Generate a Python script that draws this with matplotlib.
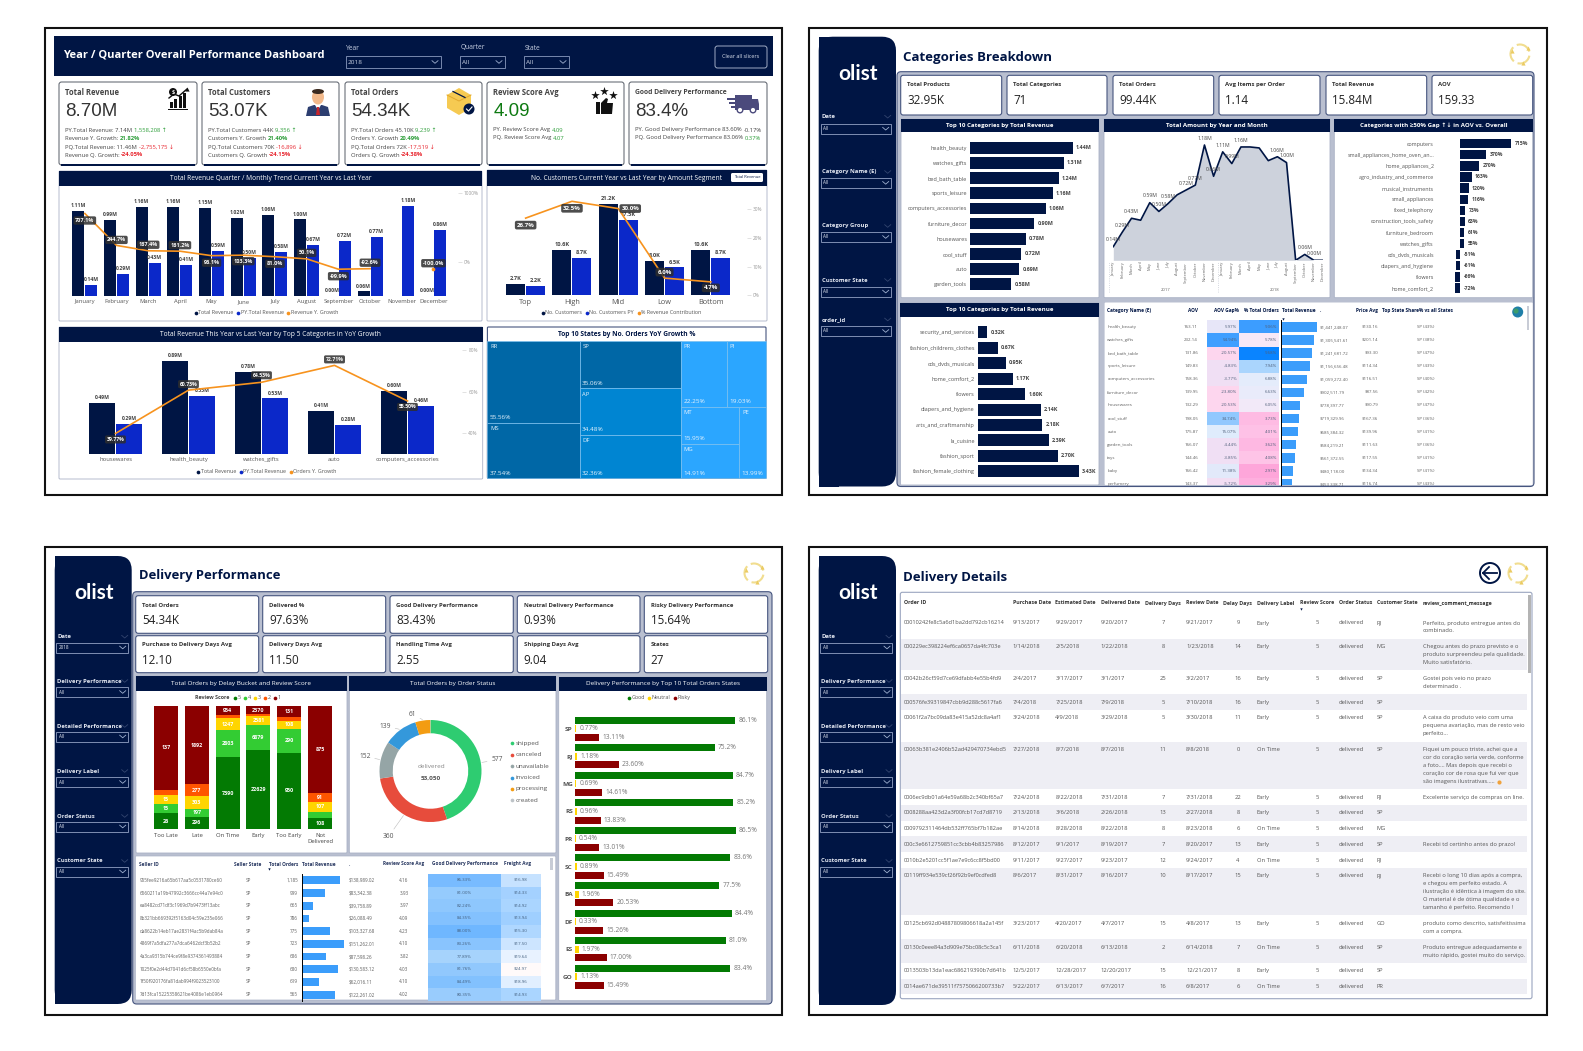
#!/usr/bin/env python3
"""
olist power bi dashboard pages redrawn with matplotlib
"""
import math

import matplotlib
matplotlib.use("Agg")
import matplotlib.pyplot as plt
from matplotlib.colors import LinearSegmentedColormap, Normalize
from matplotlib.patches import Arc, Circle, FancyBboxPatch, Polygon, Rectangle, Ellipse

W, H = 1583, 1051
NAVY = "#001544"
BLUE = "#0B28C9"
ORANGE = "#F7931E"
GREY_BG = "#B9BFD0"
EDGE = "#46557F"
TXT = "#444444"
GREEN = "#2E9E3A"
RED = "#E8262F"

plt.rcParams["font.family"] = ["Open Sans", "DejaVu Sans"]

# ---- page 1 data
months = ["January", "February", "March", "April", "May", "June", "July", "August",
          "September", "October", "November", "December"]
rev_cur = [1.11, 0.99, 1.16, 1.16, 1.15, 1.02, 1.06, 1.00, 0.00, 0.06, None, 0.00]
rev_py = [0.14, 0.29, 0.43, 0.41, 0.59, 0.50, 0.58, 0.67, 0.72, 0.77, 1.18, 0.86]
rev_growth = [707.1, 244.7, 167.4, 161.2, 96.1, 103.3, 81.0, 50.1, -99.9, -92.6, None, -100.0]

segments = ["Top", "High", "Mid", "Low", "Bottom"]
cust_cur = [2.7, 10.6, 21.2, 8.0, 10.6]
cust_py = [2.2, 8.7, 17.5, 6.5, 8.7]
cust_contrib = [26.7, 32.5, 30.0, 6.0, 4.7]

top5_names = ["housewares", "health_beauty", "watches_gifts", "auto", "computers_accessories"]
top5_cur = [0.49, 0.89, 0.78, 0.41, 0.60]
top5_py = [0.29, 0.55, 0.53, 0.28, 0.46]
top5_growth = [39.77, 60.73, 64.53, 72.71, 55.50]

tree_states = {"RR": 55.56, "MS": 37.54, "SP": 35.06, "AP": 34.48, "DF": 32.36,
               "PR": 22.25, "PI": 19.03, "MT": 15.95, "MG": 14.91, "PE": 13.99}
tree_layout = [["RR", "MS"], ["SP", "AP", "DF"], [["PR", "PI"], [["MT", "MG"], "PE"]]]

# ---- page 2 data
cat_top = ["health_beauty", "watches_gifts", "bed_bath_table", "sports_leisure",
           "computers_accessories", "furniture_decor", "housewares", "cool_stuff",
           "auto", "garden_tools"]
cat_top_rev = [1.44, 1.31, 1.24, 1.16, 1.06, 0.90, 0.78, 0.72, 0.69, 0.58]
amount_2yr = [0.14, 0.29, 0.43, 0.41, 0.59, 0.50, 0.58, 0.67, 0.72, 0.77, 1.18, 0.86,
              1.11, 0.99, 1.16, 1.16, 1.15, 1.02, 1.06, 1.00, 0.00, 0.06, 0.00, 0.00]
amount_labelled = [0, 1, 2, 4, 5, 6, 8, 9, 10, 11, 12, 13, 14, 18, 19, 21, 22]
gap_names = ["computers", "small_appliances_home_oven_an...", "home_appliances_2",
             "agro_industry_and_commerce", "musical_instruments", "small_appliances",
             "fixed_telephony", "construction_tools_safety", "furniture_bedroom",
             "watches_gifts", "cds_dvds_musicals", "diapers_and_hygiene", "flowers",
             "home_comfort_2"]
gap_vals = [715, 370, 270, 163, 120, 116, 73, 63, 61, 55, -51, -61, -66, -72]
low_names = ["security_and_services", "fashion_childrens_clothes", "cds_dvds_musicals",
             "home_comfort_2", "flowers", "diapers_and_hygiene", "arts_and_craftmanship",
             "la_cuisine", "fashion_sport", "fashion_female_clothing"]
low_vals = [0.32, 0.67, 0.95, 1.17, 1.60, 2.14, 2.18, 2.39, 2.70, 3.43]

tbl_cat = ["health_beauty", "watches_gifts", "bed_bath_table", "sports_leisure",
           "computers_accessories", "furniture_decor", "housewares", "cool_stuff", "auto",
           "garden_tools", "toys", "baby", "perfumery"]
tbl_aov = [163.11, 232.14, 131.86, 149.83, 158.36, 139.95, 132.29, 198.05, 175.87,
           166.07, 144.46, 166.42, 143.37]
tbl_gap = [5.97, 54.94, -20.57, -4.83, -3.77, -23.80, -20.53, 34.74, 15.07, -4.44, -3.85,
           11.38, -5.72]
tbl_orders = [9.06, 5.78, 9.68, 7.94, 6.88, 6.63, 6.05, 3.73, 4.01, 3.62, 4.08, 2.97, 3.29]
tbl_rev = [1441248.07, 1305541.61, 1241681.72, 1156656.48, 1059272.40, 902511.79,
           778397.77, 719329.96, 685384.32, 584219.21, 561372.55, 480118.00, 453338.71]
tbl_price = [130.16, 201.14, 93.30, 114.34, 116.51, 87.56, 90.79, 167.36, 139.96, 111.63,
             117.55, 134.34, 116.74]
tbl_share = [43, 38, 47, 43, 40, 42, 47, 36, 41, 36, 41, 41, 43]

# ---- page 3 data
buckets = ["Too Late", "Late", "On Time", "Early", "Too Early", "Not\nDelivered"]
score_5 = [26, 296, 7390, 22629, 950, 108]
score_4 = [15, 197, 2803, 6879, 290, 62]
score_3 = [15, 303, 1247, 2581, 108, 107]
score_2 = [8, 277, 312, 573, 50, 91]
score_1 = [137, 1892, 954, 2370, 131, 875]

status_names = ["shipped", "canceled", "unavailable", "invoiced", "processing", "created"]
status_vals = [577, 360, 152, 139, 61, 1]
status_cols = ["#2ECC71", "#E74C3C", "#95A5A6", "#3498DB", "#F39C12", "#BDC3C7"]

top_states = ["SP", "RJ", "MG", "RS", "PR", "SC", "BA", "DF", "ES", "GO"]
good_pct = [86.1, 75.2, 84.7, 85.2, 86.5, 83.6, 77.5, 84.4, 81.0, 83.4]
neutral_pct = [0.77, 1.18, 0.69, 0.96, 0.54, 0.89, 1.96, 0.33, 1.97, 1.13]
risky_pct = [13.11, 23.60, 14.61, 13.83, 13.01, 15.49, 20.53, 15.26, 17.00, 15.49]

seller_ids = ["955fee9216a65b617aa5c0531780ce60", "6560211a19b47992c3666cc44a7e94c0",
              "ea8482cd71df3c1969d7b9473ff13abc", "8b321bb669392f5163d04c59e235e066",
              "da8622b14eb17ae2831f4ac5b9dab84a", "4869f7a5dfa277a7dca6462dcf3b52b2",
              "4a3ca9315b744ce9f8e9374361493884", "1025f0e2d44d7041d6cf58b6550e0bfa",
              "1f50f920176fa81dab994f9023523100", "7d13fca15225358621be4086e1eb0964"]
seller_orders = [1185, 999, 665, 786, 775, 723, 686, 680, 619, 565]
seller_rev = [138989.02, 83342.38, 39758.89, 26088.49, 103327.68, 151262.01, 87598.26,
              130583.12, 62016.11, 122261.02]
seller_score = [4.16, 3.93, 3.97, 4.09, 4.23, 4.10, 3.82, 4.03, 4.10, 4.02]
seller_good = [86.33, 81.00, 82.24, 84.35, 88.00, 83.26, 77.89, 81.76, 84.49, 80.35]
seller_freight = [16.98, 14.33, 14.92, 13.94, 15.30, 17.50, 19.64, 24.97, 18.96, 14.93]

# ---- page 4 data
detail_rows = [
    ["00010242fe8c5a6d1ba2dd792cb16214", "9/13/2017", "9/29/2017", "9/20/2017", "7", "9/21/2017", "9", "Early", "RJ",
     ["Perfeito, produto entregue antes do", "combinado."]],
    ["000229ec398224ef6ca0657da4fc703e", "1/14/2018", "2/5/2018", "1/22/2018", "8", "1/23/2018", "14", "Early", "MG",
     ["Chegou antes do prazo previsto e o", "produto surpreendeu pela qualidade.", "Muito satisfatório."]],
    ["00042b26cf59d7ce69dfabb4e55b4fd9", "2/4/2017", "3/17/2017", "3/1/2017", "25", "3/2/2017", "16", "Early", "SP",
     ["Gostei pois veio no prazo", "determinado ."]],
    ["000576fe39319847cbb9d288c5617fa6", "7/4/2018", "7/25/2018", "7/9/2018", "5", "7/10/2018", "16", "Early", "SP", [""]],
    ["00061f2a7bc09da83e415a52dc8a4af1", "3/24/2018", "4/9/2018", "3/29/2018", "5", "3/30/2018", "11", "Early", "SP",
     ["A caixa do produto veio com uma", "pequena avariação, mas de resto veio", "perfeito..."]],
    ["00063b381e2406b52ad429470734ebd5", "7/27/2018", "8/7/2018", "8/7/2018", "11", "8/8/2018", "0", "On Time", "SP",
     ["Fiquei um pouco triste, achei que a", "cor do coração seria verde, conforme", "a foto.... Mas depois que recebi o",
      "coração cor de rosa que fui ver que", "são imagens ilustrativas....."]],
    ["0006ec9db01a64e59a68b2c340bf65a7", "7/24/2018", "8/22/2018", "7/31/2018", "7", "7/31/2018", "22", "Early", "RJ",
     ["Excelente serviço de compras on line."]],
    ["0008288aa423d2a3f00fcb17cd7d8719", "2/13/2018", "3/6/2018", "2/26/2018", "13", "2/27/2018", "8", "Early", "SP", [""]],
    ["0009792311464db532ff765bf7b182ae", "8/14/2018", "8/28/2018", "8/22/2018", "8", "8/23/2018", "6", "On Time", "MG", [""]],
    ["000c3e6612759851cc3cbb4b83257986", "8/12/2017", "9/1/2017", "8/19/2017", "7", "8/20/2017", "13", "Early", "SP",
     ["Recebi td certinho antes do prazo!"]],
    ["0010b2e5201cc5f1ae7e9c6cc8f5bd00", "9/11/2017", "9/27/2017", "9/23/2017", "12", "9/24/2017", "4", "On Time", "RJ", [""]],
    ["00119ff934e539cf26f92b9ef0cdfed8", "8/6/2017", "8/31/2017", "8/16/2017", "10", "8/17/2017", "15", "Early", "RJ",
     ["Recebi o long 10 dias após a compra,", "e chegou em perfeito estado. A", "ilustração é idêntica à imagem do site.",
      "O material é de ótima qualidade e o", "tamanho é perfeito. Recomendo !"]],
    ["00125cb692d04887809806618a2a145f", "3/23/2017", "4/20/2017", "4/7/2017", "15", "4/8/2017", "13", "Early", "GO",
     ["produto como descrito, satisfeitíssima", "com a compra."]],
    ["00130c0eee84a3d909e75bc08c5c3ca1", "6/11/2018", "6/20/2018", "6/13/2018", "2", "6/14/2018", "7", "On Time", "SP",
     ["Produto entregue adequadamente e", "muito rápido, gostei muito do serviço."]],
    ["0013503b13da1eac686219390b7d641b", "12/5/2017", "12/28/2017", "12/20/2017", "15", "12/21/2017", "8", "Early", "SP", [""]],
    ["0014ae671de39511f7575066200733b7", "5/22/2017", "6/13/2017", "6/7/2017", "16", "6/8/2017", "6", "On Time", "PR", [""]],
]

fig = plt.figure(figsize=(W / 100, H / 100), dpi=100, facecolor="white")
bg = fig.add_axes([0, 0, 1, 1])
bg.set_xlim(0, W)
bg.set_ylim(H, 0)
bg.axis("off")


def box(x0, y0, x1, y1):
    """axes placed by its pixel box"""
    ax = fig.add_axes([x0 / W, 1 - y1 / H, (x1 - x0) / W, (y1 - y0) / H])
    ax.patch.set_alpha(0)
    for s in ax.spines.values():
        s.set_visible(False)
    return ax


def T(x, y, s, size=4.5, color=TXT, weight="normal", ha="left", va="center", family=None, **kw):
    if family is not None:
        kw["family"] = family
    return bg.text(x, y, s, fontsize=size, color=color, fontweight=weight, ha=ha, va=va, **kw)


def rect(x0, y0, x1, y1, fc="white", ec="none", lw=0.0, z=1):
    bg.add_patch(Rectangle((x0, y0), x1 - x0, y1 - y0, fc=fc, ec=ec, lw=lw, zorder=z))


def rrect(x0, y0, x1, y1, r=3, fc="white", ec=EDGE, lw=0.8, z=2):
    bg.add_patch(FancyBboxPatch((x0, y0), x1 - x0, y1 - y0,
                                boxstyle=f"round,pad=0,rounding_size={r}",
                                fc=fc, ec=ec, lw=lw, zorder=z))


def runs(x, y, parts, size=4.2):
    """several coloured pieces of text on one line"""
    rend = fig.canvas.get_renderer()
    for s, col, wt in parts:
        t = T(x, y, s, size=size, color=col, weight=wt, zorder=5)
        x += t.get_window_extent(rend).width + 1.2


def chevron(x, y, w=3, col="#9FB0D0"):
    bg.plot([x - w, x, x + w], [y - 1.3, y + 1.3, y - 1.3], color=col, lw=0.6, zorder=6)


def legend_row(x, y, items, size=3.9):
    rend = fig.canvas.get_renderer()
    for s, col in items:
        bg.scatter([x], [y], s=7, color=col, zorder=6, linewidths=0)
        t = T(x + 2.5, y, s, size=size, color="#555555", zorder=6)
        x += t.get_window_extent(rend).width + 7


def pill(ax, x, y, s, dy=0, dx=0, size=4.0):
    ax.annotate(s, (x, y), xytext=(dx * 0.72, dy * 0.72), textcoords="offset points",
                ha="center", va="center", fontsize=size, color="white", fontweight="bold",
                bbox=dict(boxstyle="round,pad=0.3,rounding_size=0.3", fc="#2E2E2E", ec="none", alpha=0.85),
                zorder=8, annotation_clip=False)


def combo(x0, y0, x1, y1, names, cur, py, line, y_max, sec_lim, sec_ticks, width, off,
          offsets, lab_size, tick_size, fmt, sec_fmt="{:.0f}%", pill_size=4.0, tick_out=12):
    """clustered columns with a line on a second scale"""
    ax = box(x0, y0, x1, y1)
    n = len(names)
    for i in range(n):
        if cur[i] is not None:
            ax.bar(i - off, cur[i], width, color=NAVY)
            ax.annotate(fmt.format(cur[i]), (i - off, cur[i]), xytext=(0, 2), textcoords="offset points",
                        ha="center", va="bottom", fontsize=lab_size, color=TXT, fontweight="bold")
        ax.bar(i + off, py[i], width, color=BLUE)
        ax.annotate(fmt.format(py[i]), (i + off, py[i]), xytext=(0, 2), textcoords="offset points",
                    ha="center", va="bottom", fontsize=lab_size, color=TXT, fontweight="bold")
    ax.set_xlim(-0.5, n - 0.5)
    ax.set_ylim(0, y_max)
    ax.set_yticks([])
    ax.set_xticks(range(n), names, fontsize=tick_size, color="#555555")
    ax.tick_params(axis="x", length=0, pad=2.5)

    sec = ax.twinx()
    sec.patch.set_alpha(0)
    for s in sec.spines.values():
        s.set_visible(False)
    xs = [i for i in range(n) if line[i] is not None]
    # the line stops at a gap, a lone point after it only gets a dot
    run = [i for i in xs if i <= 9] if n == 12 else xs
    sec.plot(run, [line[i] for i in run], color=ORANGE, lw=1.2, zorder=5)
    if n == 12:
        sec.scatter([11], [line[11]], s=7, color=ORANGE, zorder=5, linewidths=0)
    # moving the spine resets the ticks, so it goes first
    sec.spines["right"].set_position(("outward", tick_out))
    sec.set_ylim(*sec_lim)
    sec.set_yticks(sec_ticks, [sec_fmt.format(v) for v in sec_ticks], fontsize=3.4, color="#999999")
    sec.tick_params(axis="y", length=3, width=0.4, color="#CCCCCC", pad=1.5)
    for j, i in enumerate(xs):
        dy, dx = offsets[j]
        txt = f"{line[i]:.2f}%" if n == 5 and y_max < 2 else f"{line[i]:.1f}%"
        pill(sec, i, line[i], txt, dy, dx, size=pill_size)
    return ax


def chart_header(x0, y0, x1, y1, title, bottom, size=4.8, weight="normal"):
    rrect(x0, y0, x1, bottom, r=1, fc="white", ec="#AAB2C6", lw=0.6, z=2)
    rect(x0, y0, x1, y1, fc=NAVY, z=3)
    T((x0 + x1) / 2, (y0 + y1) / 2, title, size=size, color="white", weight=weight, ha="center", zorder=4)


def kpi_small(x0, y0, x1, y1, label, value, lab_y, val_y):
    rrect(x0, y0, x1, y1, r=2.5)
    T(x0 + 6.5, lab_y, label, size=4.35, color="#333333", weight="bold", zorder=5)
    T(x0 + 6.5, val_y, value, size=8.4, color="#222222", zorder=5)


def sidebar(x0, y0, x1, y1):
    bg.add_patch(FancyBboxPatch((x0, y0), x1 - x0, y1 - y0, boxstyle="round,pad=0,rounding_size=14",
                                fc=NAVY, ec="none", zorder=2))
    rect(x0, y0, x0 + 20, y1, fc=NAVY, z=2)
    T((x0 + x1) / 2 + 0.5, y0 + 37, "olist", size=15, color="white", weight="bold", ha="center",
      family=["Lato", "DejaVu Sans"], zorder=4)


def slicer(x0, x1, lab_y, box_y0, box_y1, label, value="All"):
    T(x0 + 1, lab_y, label, size=4.2, color="#E4E8F2", weight="bold", zorder=5)
    chevron(x1 - 3, lab_y, col="#33456F")
    bg.add_patch(Rectangle((x0, box_y0), x1 - x0, box_y1 - box_y0, fc="none", ec="#93A2C4", lw=0.6, zorder=5))
    T(x0 + 2.5, (box_y0 + box_y1) / 2, value, size=3.3, color="#E4E8F2", zorder=5)
    chevron(x1 - 5, (box_y0 + box_y1) / 2)


def refresh_icon(cx, cy, r=9.5):
    col = "#F1DD8F"
    for a in (10, 130, 250):
        bg.add_patch(Arc((cx, cy), 2 * r, 2 * r, theta1=a, theta2=a + 95, color=col, lw=1.5, zorder=5))
    bg.scatter([cx + r * 0.8, cx + r * 0.35, cx - r * 0.85], [cy - r * 0.65, cy + r * 0.92, cy - r * 0.3],
               s=9, marker="^", color="#EBCB63", zorder=6, linewidths=0)


def tree_cells(node, x0, y0, x1, y1, horizontal=True):
    """slice and dice the nested layout, area follows the values"""
    def total(n):
        return tree_states[n] if isinstance(n, str) else sum(total(c) for c in n)
    if isinstance(node, str):
        return [(node, x0, y0, x1, y1)]
    out = []
    whole = total(node)
    pos = x0 if horizontal else y0
    for child in node:
        frac = total(child) / whole
        if horizontal:
            nxt = pos + (x1 - x0) * frac
            out += tree_cells(child, pos, y0, nxt, y1, False)
        else:
            nxt = pos + (y1 - y0) * frac
            out += tree_cells(child, x0, pos, x1, nxt, True)
        pos = nxt
    return out


def heat_col(x0, x1, y0, rowh, values, cmap, norm, fmt, size=3.2, bottom=None):
    for i, v in enumerate(values):
        top = y0 + i * rowh
        low = top + rowh if bottom is None else min(top + rowh, bottom)
        rect(x0, top, x1, low, fc=cmap(norm(v)), z=3)
        T(x1 - 2, top + rowh / 2, fmt.format(v), size=size, color="#50607A", ha="right", zorder=5)


# ---- outer frames
for fx0, fy0, fx1, fy1 in [(45, 27.5, 782, 494.5), (809, 27.5, 1547, 494.5),
                           (45, 547, 782, 1015), (809, 547, 1547, 1015)]:
    rect(fx0, fy0, fx1, fy1, fc="white", ec="#111111", lw=1.5, z=0)

# ---- page 1 header and cards
rect(54, 36, 773, 76, fc=NAVY, z=2)
T(63, 55, "Year / Quarter Overall Performance Dashboard", size=8.0, color="white", weight="bold", zorder=4)
for lx, bx0, bx1, name, val in [(346, 346, 441, "Year", "2018"), (461, 460.5, 505, "Quarter", "All"),
                                (525, 524, 569, "State", "All")]:
    T(lx, 48, name, size=4.8, color="#C9D1E3", zorder=4)
    bg.add_patch(Rectangle((bx0, 56), bx1 - bx0, 12, fc="none", ec="#8A9ABF", lw=0.6, zorder=4))
    T(bx0 + 2, 62, val, size=4.6, color="#C9D1E3", zorder=4)
    chevron(bx1 - 6, 62)
rrect(715, 46, 767, 68, r=2.5, fc=NAVY, ec="#B8C2D8", lw=0.6, z=3)
T(741, 57, "Clear all slicers", size=3.9, color="#DDE2EE", ha="center", zorder=4)

cards = [
    (59, 197, "Total Revenue", "8.70M", "#333333",
     [[("PY.Total Revenue: 7.14M", TXT, "normal"), ("1,558,208 ↑", GREEN, "normal")],
      [("Revenue Y. Growth:", TXT, "normal"), ("21.82%", GREEN, "bold")],
      [("PQ.Total Revenue: 11.46M", TXT, "normal"), ("-2,755,175 ↓", RED, "normal")],
      [("Revenue Q. Growth:", TXT, "normal"), ("-24.05%", RED, "bold")]]),
    (202, 339, "Total Customers", "53.07K", "#333333",
     [[("PY.Total Customers 44K", TXT, "normal"), ("9,356 ↑", GREEN, "normal")],
      [("Customers Y. Growth", TXT, "normal"), ("21.40%", GREEN, "bold")],
      [("PQ.Total Customers 70K", TXT, "normal"), ("-16,896 ↓", RED, "normal")],
      [("Customers Q. Growth", TXT, "normal"), ("-24.15%", RED, "bold")]]),
    (345, 482, "Total Orders", "54.34K", "#333333",
     [[("PY.Total Orders 45.10K", TXT, "normal"), ("9,239 ↑", GREEN, "normal")],
      [("Orders Y. Growth", TXT, "normal"), ("20.49%", GREEN, "bold")],
      [("PQ.Total Orders 72K", TXT, "normal"), ("-17,519 ↓", RED, "normal")],
      [("Orders Q. Growth", TXT, "normal"), ("-24.38%", RED, "bold")]]),
    (487, 624, "Review Score Avg", "4.09", "#0E7A12",
     [[("PY. Review Score Avg", TXT, "normal"), ("4.09", GREEN, "normal")],
      [("PQ. Review Score Avg", TXT, "normal"), ("4.07", GREEN, "normal")]]),
    (629, 767, "Good Delivery Performance", "83.4%", "#333333",
     [[("PY. Good Delivery Performance 83.60%", TXT, "normal"), ("-0.17%", TXT, "normal")],
      [("PQ. Good Delivery Performance 83.06%", TXT, "normal"), ("0.37%", GREEN, "normal")]]),
]
for cx0, cx1, head, val, col, lines in cards:
    rrect(cx0, 82, cx1, 165, r=2.5, fc="white", ec="#555B66", lw=0.7)
    rect(cx0 + 2, 164.4, cx1 - 2, 165.6, fc=NAVY, z=3)
    T(cx0 + 6.5, 92.3, head, size=5.5 if len(head) < 20 else 4.9, color="#444444", weight="bold", zorder=5)
    T(cx0 + 6.5, 111, val, size=13.5, color=col, family=["Liberation Sans", "DejaVu Sans"], zorder=5)
    for ln, yy in zip(lines, (130, 138, 147, 155)):
        runs(cx0 + 6.5, yy, ln)

# chart icon
for k, bh in enumerate((6, 9, 12, 15)):
    rect(170 + k * 4.5, 108 - bh, 173 + k * 4.5, 108, fc="#111111", z=5)
rect(168, 109, 188, 110, fc="#111111", z=5)
bg.plot([169, 174, 179, 187], [98, 94, 96, 89], color="#111111", lw=1, zorder=5)
bg.scatter([187], [89], s=9, marker="^", color="#111111", zorder=5, linewidths=0)
bg.add_patch(Circle((173, 92), 4, fc="#111111", zorder=5))
T(173, 92, "$", size=4, color="white", ha="center", zorder=6, weight="bold")
# person icon
bg.add_patch(Polygon([(306, 116), (308, 107), (314, 105), (322, 105), (328, 107), (330, 116)], fc="#2C3E70", zorder=5))
bg.add_patch(Polygon([(315, 105), (321, 105), (318, 110)], fc="white", zorder=6))
bg.add_patch(Polygon([(317, 107), (319, 107), (320, 115), (316, 115)], fc="#C8252C", zorder=6))
bg.add_patch(Ellipse((318, 97), 12, 15, fc="#F2B98B", zorder=5))
bg.add_patch(Ellipse((318, 91.5), 12, 5, fc="#3A2A20", zorder=6))
# box icon
bg.add_patch(Polygon([(447, 95), (459, 88), (471, 95), (471, 108), (459, 115), (447, 108)], fc="#F6CA52", zorder=5))
bg.plot([447, 459, 471], [95, 101, 95], color="#E3A92F", lw=0.7, zorder=6)
bg.plot([453, 465], [91.5, 97.5], color=NAVY, lw=0.9, zorder=6)
bg.add_patch(Circle((469, 109), 5.5, fc=NAVY, zorder=7))
bg.plot([466.5, 468.5, 472], [109, 111, 107], color="white", lw=0.8, zorder=8)
# stars and thumb icon
bg.scatter([595, 604, 613], [95, 91, 95], s=42, marker="*", color="#111111", zorder=5, linewidths=0)
rect(596, 102, 600, 114, fc="#111111", z=5)
bg.add_patch(Polygon([(601, 103), (606, 98), (608, 99), (607, 103), (613, 103), (612, 114), (601, 114)], fc="#111111", zorder=5))
# truck icon
rect(735, 95, 752, 110, fc="#4B4A7C", z=5)
bg.add_patch(Polygon([(752, 99), (758, 99), (759, 104), (759, 110), (752, 110)], fc="#4B4A7C", zorder=5))
for yy, xx in [(98, 727), (102, 729), (106, 731)]:
    rect(xx, yy, 737, yy + 1.6, fc="#4B4A7C", z=6)
for xx in (740, 753):
    bg.add_patch(Circle((xx, 110), 2.8, fc="white", ec="#4B4A7C", lw=1, zorder=7))

# ---- page 1 charts
chart_header(59, 171, 482, 186, "Total Revenue Quarter / Monthly Trend Current Year vs Last Year", 321)
combo(69, 189, 449.3, 296, months, rev_cur, rev_py, rev_growth, 1.397, (-488, 1062), [0, 1000], 12 / 31.7, 6.5 / 31.7,
      [(-7, 0), (5.5, 0), (6, 0), (6, 0), (-7, 0), (-6, 0), (-7, 0), (6, 0), (-7, 0), (6, 0), (6, 0)],
      3.7, 4.2, "{:.2f}M", tick_out=6)
legend_row(196, 313, [("Total Revenue", NAVY), ("PY.Total Revenue", BLUE), ("Revenue Y. Growth", ORANGE)])

chart_header(487, 170, 767, 186, "No. Customers Current Year vs Last Year by Amount Segment", 321)
rrect(731, 173, 763, 182, r=1.5, fc="white", ec="none", lw=0, z=4)
T(747, 177.5, "Total Revenue", size=2.9, color=NAVY, ha="center", zorder=5)
combo(502.5, 190, 734, 295.5, segments, cust_cur, cust_py, cust_contrib, 24.4, (0, 36.4), [0, 10, 20, 30], 19 / 46.3, 10 / 46.3,
      [(-7, 0), (-7, 0), (0, 12), (6, 0), (-6, 0)], 4.1, 5.3, "{:.1f}K", pill_size=4.4, tick_out=9)
legend_row(543, 313, [("No. Customers", NAVY), ("No. Customers PY", BLUE), ("% Revenue Contribution", ORANGE)])

chart_header(59, 327, 482.7, 342, "Total Revenue This Year vs Last Year by Top 5 Categories in YoY Growth", 479)
combo(79, 347, 444, 454, top5_names, top5_cur, top5_py, top5_growth, 1.019, (29.84, 81.6), [40, 60, 80], 26 / 73, 13.5 / 73,
      [(-6, 0), (6, 0), (7, 0), (6, 0), (-6, 0)], 3.7, 4.2, "{:.2f}M", pill_size=3.7, tick_out=13)
legend_row(198.5, 471.7, [("Total Revenue", NAVY), ("PY.Total Revenue", BLUE), ("Orders Y. Growth", ORANGE)])

rrect(487.4, 327, 766, 478.3, r=1, fc="white", ec=EDGE, lw=0.8, z=2)
T(626.7, 334, "Top 10 States by No. Orders YoY Growth %", size=4.8, color=NAVY, weight="bold", ha="center", zorder=4)
for st, x0, y0, x1, y1 in tree_cells(tree_layout, 487.4, 341, 766, 478.3):
    v = tree_states[st]
    col = "#0067A6" if v >= 35 else "#0085D2" if v >= 30 else "#2BA6FF"
    rect(x0, y0, x1, y1, fc=col, ec="#7CC0EE", lw=0.5, z=3)
    T(x0 + 2.5, y0 + 6, st, size=4.2, color="#E8F3FC", zorder=5)
    T(x0 + 2.5, y1 - 5, f"{v:.2f}%", size=4.6, color="#E8F3FC", zorder=5)

# ---- page 2
sidebar(818.7, 36.7, 896, 486.5)
slicer(821, 890.7, 116.7, 123.7, 133.7, "Date")
slicer(821, 890.7, 172, 178, 187.7, "Category Name (E)")
slicer(821, 890.7, 226, 232, 242, "Category Group")
slicer(821, 890.7, 280, 286.7, 296.5, "Customer State")
slicer(821, 890.7, 319.5, 326, 336, "order_id")
T(903, 57, "Categories Breakdown", size=9.5, color=NAVY, weight="bold", zorder=4)
refresh_icon(1520, 54)
rrect(897, 71.7, 1534, 486.5, r=4, fc=GREY_BG, ec=EDGE, lw=0.8, z=1)
for (kx0, kx1), lab, val in zip([(900.7, 1001.7), (1007, 1107), (1113, 1213.7), (1219, 1320), (1326, 1426.7), (1432, 1532.7)],
                                ["Total Products", "Total Categories", "Total Orders", "Avg Items per Order", "Total Revenue", "AOV"],
                                ["32.95K", "71", "99.44K", "1.14", "15.84M", "159.33"]):
    kpi_small(kx0, 75.3, kx1, 115, lab, val, 84.7, 100)

chart_header(901, 118.7, 1099, 132, "Top 10 Categories by Total Revenue", 297.7, size=4.4, weight="bold")
ax = box(970, 140.2, 1095, 291.8)
ax.barh(range(10), cat_top_rev, 11.7 / 15.16, color=NAVY)
ax.set_ylim(9.5, -0.5)
ax.set_xlim(0, 125 / 71.5)
ax.set_xticks([])
ax.set_yticks(range(10), cat_top, fontsize=4.0, color="#555555")
ax.tick_params(axis="y", length=0, pad=2)
for i, v in enumerate(cat_top_rev):
    ax.annotate(f"{v:.2f}M", (v, i), xytext=(2.2, 0), textcoords="offset points", va="center", fontsize=3.9, color=TXT, fontweight="bold")

chart_header(1104, 118.7, 1330, 132, "Total Amount by Year and Month", 297.7, size=4.4, weight="bold")
ax = box(1113.3, 135, 1323, 260.3)
xs2 = list(range(24))
ax.fill_between(xs2, amount_2yr, color="#CDD2DC", lw=0)
ax.plot(xs2, amount_2yr, color=NAVY, lw=1.2)
ax.set_xlim(0, 23)
ax.set_ylim(0, 1.2825)
ax.set_yticks([])
ax.set_xticks(xs2, months + months, rotation=90, fontsize=2.9, color="#666666")
ax.tick_params(axis="x", length=0, pad=1)
for i in amount_labelled:
    ax.annotate(f"{amount_2yr[i]:.2f}M", (i, amount_2yr[i]), xytext=(0, 3), textcoords="offset points",
                ha="center", va="bottom", fontsize=3.7, color=TXT, annotation_clip=False)
for xd in (-0.5, 11.5):
    ax.plot([xd, xd], [-0.32, -0.02], color="#C8CCD6", lw=0.6, ls=":", clip_on=False)
T(1166, 290, "2017", size=3.1, color="#666666", ha="center", zorder=5)
T(1275, 290, "2018", size=3.1, color="#666666", ha="center", zorder=5)

chart_header(1334.3, 118.7, 1532.7, 132, "Categories with ≥50% Gap ↑↓ in AOV vs. Overall", 297.7, size=4.4, weight="bold")
ax = box(1434, 138.1, 1532, 293.6)
ax.barh(range(14), gap_vals, 9.3 / 11.1, color=NAVY)
ax.set_ylim(13.5, -0.5)
ax.set_xlim(-363.6, 1007)
ax.set_xticks([])
ax.set_yticks(range(14), gap_names, fontsize=3.9, color="#555555")
ax.tick_params(axis="y", length=0, pad=0)
for i, v in enumerate(gap_vals):
    ax.annotate(f"{v}%", (max(v, 0), i), xytext=(2.5, 0), textcoords="offset points", va="center", fontsize=3.7, color=TXT, fontweight="bold")

chart_header(900.5, 302.5, 1099, 316.5, "Top 10 Categories by Total Revenue", 485, size=4.4, weight="bold")
ax = box(978, 324.25, 1095, 479.25)
ax.barh(range(10), low_vals, 12 / 15.5, color=NAVY)
ax.set_ylim(9.5, -0.5)
ax.set_xlim(0, 117 / 29.5)
ax.set_xticks([])
ax.set_yticks(range(10), low_names, fontsize=4.0, color="#555555")
ax.tick_params(axis="y", length=0, pad=2.2)
for i, v in enumerate(low_vals):
    ax.annotate(f"{v:.2f}K", (v, i), xytext=(2.2, 0), textcoords="offset points", va="center", fontsize=3.9, color=TXT, fontweight="bold")

# category table
rrect(1104.6, 302.5, 1532.7, 485, r=1, fc="white", ec="none", lw=0, z=2)
head_y, r0, rh = 310.7, 320.3, 13.1
for hx, hs, ha in [(1107.4, "Category Name (E)", "left"), (1198, "AOV", "right"), (1239, "AOV Gap%", "right"),
                   (1279, "% Total Orders", "right"), (1282, "Total Revenue", "left"), (1320, ".", "left"),
                   (1378, "Price Avg", "right"), (1382, "Top State Share% vs all States", "left")]:
    T(hx, head_y, hs, size=3.45, color=NAVY, weight="bold", ha=ha, zorder=5)
bg.scatter([1283.5], [319], s=3, marker="v", color=NAVY, zorder=5, linewidths=0)
rect(1104.6, 319.6, 1474, 320.3, fc="#A7D3F5", z=4)
pink_blue = LinearSegmentedColormap.from_list("pb", ["#FEA6DA", "#FFE6F5", "#DCEEFD", "#0A84FF"], N=64)
gap_cmap = LinearSegmentedColormap.from_list("gap", ["#FDD6EE", "#FDD6EE", "#DCEEFD", "#3F9FFF"], N=64)
heat_col(1207, 1239, r0, rh, tbl_gap, gap_cmap, Normalize(-55, 55), "{:.2f}%", bottom=485)
heat_col(1239, 1279, r0, rh, tbl_orders, pink_blue, Normalize(2.97, 9.68), "{:.2f}%", bottom=485)
for i in range(13):
    yy = r0 + (i + 0.5) * rh
    T(1107.4, yy, tbl_cat[i], size=3.2, color="#606060", zorder=5)
    T(1198, yy, f"{tbl_aov[i]:.2f}", size=3.2, color="#606060", ha="right", zorder=5)
    T(1320, yy, f"${tbl_rev[i]:,.2f}", size=3.2, color="#606060", zorder=5)
    T(1378, yy, f"${tbl_price[i]:.2f}", size=3.2, color="#606060", ha="right", zorder=5)
    T(1426, yy, f"SP ({tbl_share[i]}%)", size=3.2, color="#606060", ha="center", zorder=5)
ax = box(1281, r0, 1319, 485)
ax.barh(range(13), tbl_rev, 0.72, color="#3B9DFB")
ax.set_ylim(-0.5 + (485 - r0) / rh, -0.5)
ax.set_xlim(0, max(tbl_rev) * 38 / 36)
ax.set_xticks([])
ax.set_yticks([])
ax.spines["left"].set_visible(True)
ax.spines["left"].set_linewidth(0.7)
bg.add_patch(Circle((1517.7, 312), 5.5, fc="#1F7FA8", zorder=5))
bg.add_patch(Circle((1516, 311), 2.6, fc="#3C9C6C", zorder=6))
rect(1527, 306, 1529, 330, fc="#C8CCD6", z=5)

# ---- page 3
sidebar(54.7, 556, 131.7, 1004)
for ly, by0, name, val in [(636.7, 642.5, "Date", "2018"), (681, 687, "Delivery Performance", "All"),
                           (726, 731.5, "Detailed Performance", "All"), (771, 777, "Delivery Label", "All"),
                           (816, 821.5, "Order Status", "All"), (861, 866.5, "Customer State", "All")]:
    slicer(56.5, 127.7, ly, by0, by0 + 10, name, val)
T(139, 576, "Delivery Performance", size=9.4, color=NAVY, weight="bold", zorder=4)
refresh_icon(754, 573)
rrect(132.7, 591.7, 772, 1004, r=4, fc=GREY_BG, ec=EDGE, lw=0.8, z=1)
kcols = [(135.7, 258.7), (262.7, 385.7), (390, 513.3), (517.3, 640), (644.3, 767.7)]
for (kx0, kx1), lab, val in zip(kcols, ["Total Orders", "Delivered %", "Good Delivery Performance",
                                        "Neutral Delivery Performance", "Risky Delivery Performance"],
                                ["54.34K", "97.63%", "83.43%", "0.93%", "15.64%"]):
    kpi_small(kx0, 595.7, kx1, 633.3, lab, val, 605.7, 620)
for (kx0, kx1), lab, val in zip(kcols, ["Purchase to Delivery Days Avg", "Delivery Days Avg", "Handling Time Avg",
                                        "Shipping Days Avg", "States"],
                                ["12.10", "11.50", "2.55", "9.04", "27"]):
    kpi_small(kx0, 635.7, kx1, 672.7, lab, val, 644.7, 660)

chart_header(136, 675.7, 347, 691, "Total Orders by Delay Bucket and Review Score", 853, size=4.55)
runs(195, 697.7, [("Review Score", "#444444", "bold")], size=3.9)
score_cols = ["#037A03", "#33CC33", "#FFD500", "#FF5500", "#8B0000"]
legend_row(235, 697.7, list(zip(["5", "4", "3", "2", "1"], score_cols)))
ax = box(150.6, 706, 335.4, 829)
bottoms = [0.0] * 6
for vals, col in zip([score_5, score_4, score_3, score_2, score_1], score_cols):
    shares = []
    for b in range(6):
        tot = score_5[b] + score_4[b] + score_3[b] + score_2[b] + score_1[b]
        shares.append(vals[b] / tot)
    ax.bar(range(6), shares, 24 / 30.8, bottom=bottoms, color=col)
    for b in range(6):
        if shares[b] * 123 >= 7:
            ax.text(b, bottoms[b] + shares[b] / 2, str(vals[b]), ha="center", va="center",
                    fontsize=3.9, color="white", fontweight="bold")
        bottoms[b] += shares[b]
ax.set_xlim(-0.5, 5.5)
ax.set_ylim(0, 1)
ax.set_yticks([])
ax.set_xticks(range(6), buckets, fontsize=4.2, color="#444444")
ax.tick_params(axis="x", length=0, pad=3.2)

chart_header(349.3, 675.7, 556, 691, "Total Orders by Order Status", 853, size=4.55)
ax = box(379.5, 720, 481.5, 822)
ax.pie(status_vals, colors=status_cols, startangle=90, counterclock=False, radius=1,
       wedgeprops=dict(width=0.26, linewidth=0))
ax.set_xlim(-1, 1)
ax.set_ylim(-1, 1)
label_shift = [(0, 0), (-7, -8), (0, 0), (-5, -9), (-8, -10), (-7, -11)]
cum = 0
for v, (sx, sy) in zip(status_vals, label_shift):
    mid = math.radians((cum + v / 2) / sum(status_vals) * 360)
    cum += v
    px, py_ = math.sin(mid), math.cos(mid)
    ax.annotate(str(v), (1.02 * px, 1.02 * py_), xytext=(1.32 * px + sx / 51, 1.32 * py_ + sy / 51),
                ha="center", va="center", fontsize=4.8, color="#555555",
                arrowprops=dict(arrowstyle="-", color="#BBBBBB", lw=0.4, shrinkA=1, shrinkB=0))
T(431, 766.7, "delivered", size=4.6, color="#888888", ha="center", zorder=5)
T(431, 778.6, "53,050", size=4.6, color="#555555", weight="bold", ha="center", zorder=5)
for k, (s, c) in enumerate(zip(status_names, status_cols)):
    yy = 743.3 + k * 11.4
    bg.scatter([512], [yy], s=7, color=c, zorder=6, linewidths=0)
    T(515.7, yy, s, size=4.6, color="#555555", zorder=5)

chart_header(558.7, 676.7, 766.7, 691, "Delivery Performance by Top 10 Total Orders States", 1000.7, size=4.55)
legend_row(628.7, 697.7, [("Good", "#037A03"), ("Neutral", "#FFD500"), ("Risky", "#8B0000")])
ax = box(575, 715, 765, 990.5)
ys = list(range(10))
off = 8.6 / 27.55
hgt = 7 / 27.55
ax.barh([y - off for y in ys], good_pct, hgt, color="#037A03")
ax.barh(ys, neutral_pct, hgt, color="#FFD500")
ax.barh([y + off for y in ys], risky_pct, hgt, color="#8B0000")
ax.set_xlim(0, 190 / 1.86)
ax.set_ylim(9.5, -0.5)
ax.set_xticks([])
ax.set_yticks(ys, top_states, fontsize=4.6, color="#555555", fontweight="bold")
ax.tick_params(axis="y", length=0, pad=1.6)
for i in ys:
    for pos, v, fmt in [(i - off, good_pct[i], "{:.1f}%"), (i, neutral_pct[i], "{:.2f}%"), (i + off, risky_pct[i], "{:.2f}%")]:
        ax.annotate(fmt.format(v), (v, pos), xytext=(2.2, 0), textcoords="offset points", va="center", fontsize=4.8, color="#777777")

# seller table
rrect(135.4, 856, 555.8, 1000, r=1, fc="white", ec="#AAB2C6", lw=0.5, z=2)
for hx, hs, ha in [(139.5, "Seller ID", "left"), (248, "Seller State", "center"), (298, "Total Orders", "right"),
                   (302, "Total Revenue", "left"), (348.5, ".", "left"), (404, "Review Score Avg", "center"),
                   (465, "Good Delivery Performance", "center"), (518, "Freight Avg", "center")]:
    T(hx, 864, hs, size=3.4, color="#24345E", weight="bold", ha=ha, zorder=5)
bg.scatter([269.5], [869], s=3, marker="v", color=NAVY, zorder=5, linewidths=0)
r0, rh = 874, 12.7
good_cmap = LinearSegmentedColormap.from_list("good", ["#A6D3FC", "#6FB7FF"], N=64)
freight_cmap = LinearSegmentedColormap.from_list("fr", ["#9FCFFF", "#E7F2FF", "#FFFAFA"], N=64)
for i, v in enumerate(seller_good):
    rect(428, r0 + i * rh, 501, r0 + (i + 1) * rh, fc=good_cmap(Normalize(77.89, 88)(v)), z=3)
    T(464.5, r0 + (i + 0.5) * rh, f"{v:.2f}%", size=3.2, color="#44607F", ha="center", zorder=5)
for i, v in enumerate(seller_freight):
    rect(501, r0 + i * rh, 541.3, r0 + (i + 1) * rh, fc=freight_cmap(Normalize(13.94, 24.97)(v)), z=3)
    T(521, r0 + (i + 0.5) * rh, f"${v:.2f}", size=3.2, color="#44607F", ha="center", zorder=5)
for i in range(10):
    yy = r0 + (i + 0.5) * rh
    T(139.5, yy, seller_ids[i], size=3.3, color="#606060", zorder=5)
    T(248, yy, "SP", size=3.3, color="#606060", ha="center", zorder=5)
    T(298, yy, f"{seller_orders[i]:,}", size=3.3, color="#606060", ha="right", zorder=5)
    T(348.5, yy, f"${seller_rev[i]:,.2f}", size=3.3, color="#606060", zorder=5)
    T(404, yy, f"{seller_score[i]:.2f}", size=3.3, color="#606060", ha="center", zorder=5)
ax = box(301.5, r0, 346, r0 + 10 * rh)
ax.barh(range(10), seller_rev, 0.62, color="#3B9DFB")
ax.set_ylim(9.5, -0.5)
ax.set_xlim(0, max(seller_rev) * 44.5 / 42)
ax.set_xticks([])
ax.set_yticks([])
ax.spines["left"].set_visible(True)
ax.spines["left"].set_linewidth(0.7)
rect(550.5, 858, 553, 870, fc="#C8CCD6", z=5)

# ---- page 4
sidebar(818.7, 556, 896, 1005)
for ly, by0, name in [(636.7, 642.5, "Date"), (681, 687, "Delivery Performance"), (726, 731.5, "Detailed Performance"),
                      (771, 777, "Delivery Label"), (816, 821.5, "Order Status"), (861, 866.5, "Customer State")]:
    slicer(820.5, 892, ly, by0, by0 + 10, name)
T(903, 578, "Delivery Details", size=9.5, color=NAVY, weight="bold", zorder=4)
refresh_icon(1518, 573)
bg.add_patch(Circle((1490, 573), 10, fc="white", ec=NAVY, lw=1.4, zorder=5))
bg.plot([1483, 1497], [573, 573], color=NAVY, lw=1.3, zorder=6)
bg.plot([1489, 1483, 1489], [567, 573, 579], color=NAVY, lw=1.3, zorder=6)
rrect(900.3, 592.3, 1532, 998.7, r=2, fc="white", ec="#9AA5BF", lw=0.8, z=1)

col_x = [904, 1012.7, 1055.3, 1100.7, 1163, 1186, 1238, 1257, 1317, 1339, 1377, 1422.7]
for hx, hs, ha in [(904, "Order ID", "left"), (1012.7, "Purchase Date", "left"), (1055.3, "Estimated Date", "left"),
                   (1100.7, "Delivered Date", "left"), (1144.7, "Delivery Days", "left"), (1186, "Review Date", "left"),
                   (1223, "Delay Days", "left"), (1257, "Delivery Label", "left"), (1300, "Review Score", "left"),
                   (1339, "Order Status", "left"), (1377, "Customer State", "left"),
                   (1422.7, "review_comment_message", "left")]:
    T(hx, 603, hs, size=3.8, color="#333333", weight="bold", ha=ha, zorder=5)
bg.scatter([1301.5], [608.5], s=3, marker="v", color=NAVY, zorder=5, linewidths=0)
top = 615.0
cell_size = 4.15
for i, row in enumerate(detail_rows):
    nlines = len(row[9])
    hgt_row = 7.7 + 8 * nlines
    if i % 2 == 1:
        rect(901, top, 1527, top + hgt_row, fc="#EEEEF4", z=2)
    yy = top + 8
    T(col_x[0], yy, row[0], size=cell_size - 0.1, color="#555555", zorder=5)
    T(col_x[1], yy, row[1], size=cell_size, color="#555555", zorder=5)
    T(col_x[2], yy, row[2], size=cell_size, color="#555555", zorder=5)
    T(col_x[3], yy, row[3], size=cell_size, color="#555555", zorder=5)
    T(col_x[4], yy, row[4], size=cell_size, color="#555555", ha="center", zorder=5)
    T(col_x[5], yy, row[5], size=cell_size, color="#555555", zorder=5)
    T(col_x[6], yy, row[6], size=cell_size, color="#555555", ha="center", zorder=5)
    T(col_x[7], yy, row[7], size=cell_size, color="#555555", zorder=5)
    T(col_x[8], yy, "5", size=cell_size, color="#555555", ha="center", zorder=5)
    T(col_x[9], yy, "delivered", size=cell_size, color="#555555", zorder=5)
    T(col_x[10], yy, row[8], size=cell_size, color="#555555", zorder=5)
    for k, ln in enumerate(row[9]):
        T(col_x[11], yy + k * 8, ln, size=cell_size, color="#555555", zorder=5)
    if row[9][-1].endswith("ilustrativas....."):
        bg.scatter([1499], [yy + 4 * 8], s=9, color="#F0A23C", zorder=6, linewidths=0)
    top += hgt_row
rect(1528, 595, 1531, 673, fc="#B4B4B4", z=5)

fig.savefig("out.png", dpi=100)
